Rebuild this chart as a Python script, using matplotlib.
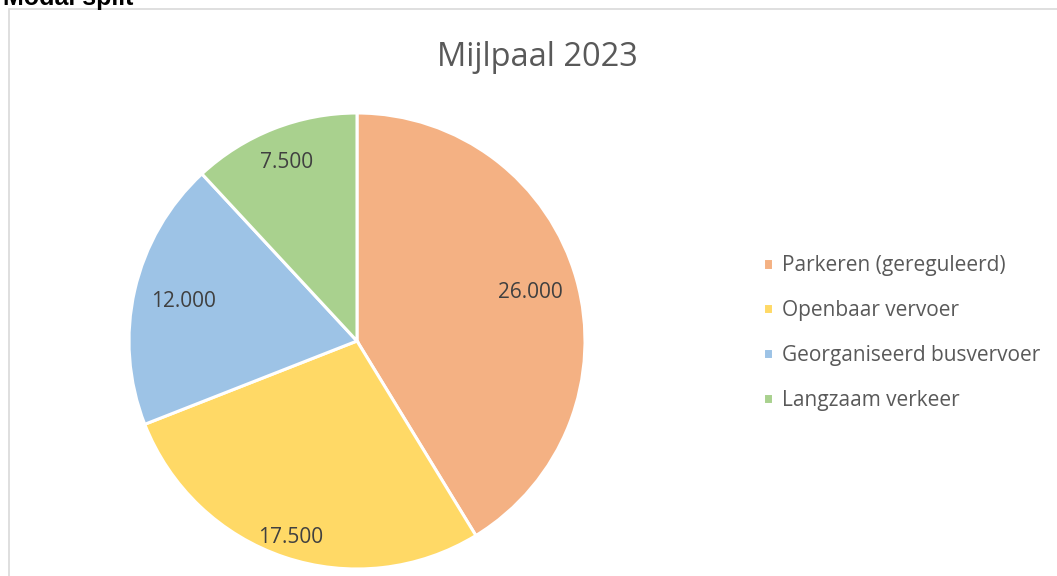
import matplotlib.pyplot as plt
from matplotlib.patches import Rectangle
import numpy as np

plt.rcParams['font.family'] = ['Open Sans', 'DejaVu Sans']

categories = ["Parkeren (gereguleerd)", "Openbaar vervoer",
              "Georganiseerd busvervoer", "Langzaam verkeer"]
values = [26000, 17500, 12000, 7500]
value_labels = ["26.000", "17.500", "12.000", "7.500"]
colors = ["#F4B183", "#FFD966", "#9DC3E6", "#A9D18E"]
# radial position of each data label, as fraction of the radius
label_dist = [0.79, 0.91, 0.78, 0.84]

W, H = 1057, 576
fig = plt.figure(figsize=(W / 100, H / 100), dpi=100)

# chart frame, runs off the right and bottom edges
fig.add_artist(Rectangle((9 / W, -0.1), 1.2, 1 - 9 / H + 0.1,
                         transform=fig.transFigure, fill=False,
                         edgecolor="#D9D9D9", linewidth=1.2))

fig.text(3 / W, 1 - 5 / H, "Modal split", fontsize=18, fontweight="bold",
         family=["Liberation Sans", "DejaVu Sans"], color="#000000",
         va="baseline", ha="left")

cx, cy, r = 357, 341, 228
ax = fig.add_axes([(cx - r) / W, (H - cy - r) / H, 2 * r / W, 2 * r / H])
wedges, _ = ax.pie(values, colors=colors, startangle=90, counterclock=False,
                   radius=1, wedgeprops=dict(edgecolor="white", linewidth=2.2))
ax.set_xlim(-1, 1)
ax.set_ylim(-1, 1)
ax.set_aspect("equal")
ax.axis("off")

for w, lab, d in zip(wedges, value_labels, label_dist):
    ang = np.deg2rad((w.theta1 + w.theta2) / 2)
    ax.text(d * np.cos(ang), d * np.sin(ang), lab, ha="center", va="center",
            fontsize=15, color="#404040")

fig.text(537 / W, 1 - 57 / H, "Mijlpaal 2023", fontsize=23.5, color="#595959",
         ha="center", va="center")

leg = fig.legend(wedges, categories, loc="upper left",
                 bbox_to_anchor=(763 / W, 1 - 255 / H), frameon=False,
                 fontsize=15, labelcolor="#595959", handlelength=0.5,
                 handleheight=0.5, handletextpad=0.4, labelspacing=1.15,
                 borderaxespad=0, borderpad=0)

fig.savefig("out.png", dpi=100)
